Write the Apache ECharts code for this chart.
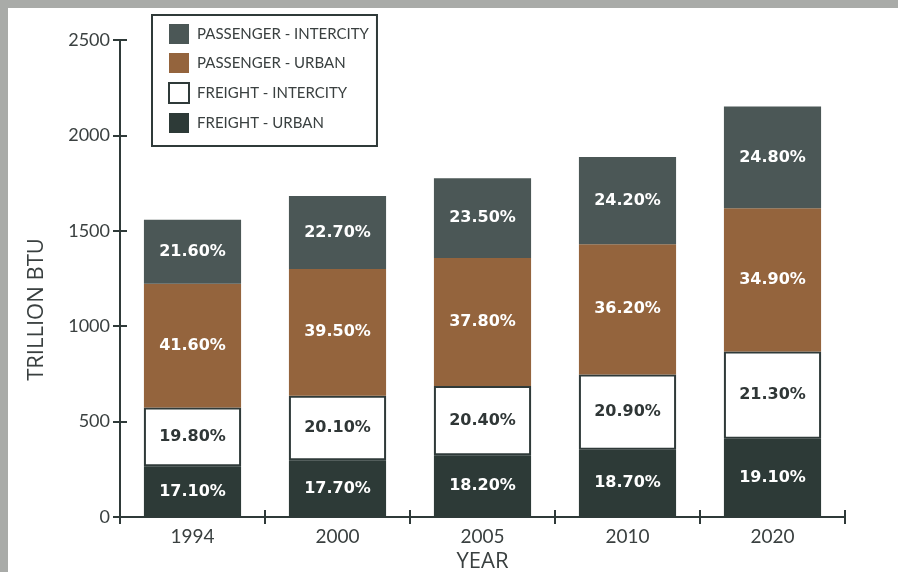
<!DOCTYPE html>
<html>
<head>
<meta charset="utf-8">
<script src="https://cdn.jsdelivr.net/npm/echarts@6/dist/echarts.min.js"></script>
<style>
  html, body { margin: 0; padding: 0; }
  body { width: 898px; height: 572px; background: #a9aba8; position: relative; overflow: hidden; }
  #chart { position: absolute; left: 8px; top: 8px; width: 890px; height: 564px; background: #ffffff; }
</style>
</head>
<body>
<div id="chart"></div>
<script>
var years = ['1994', '2000', '2005', '2010', '2020']
// trillion BTU per segment
var freightUrban = [266, 298, 323, 353, 410]
var freightIntercity = [308, 338, 363, 394, 458]
var passengerUrban = [648, 664, 672, 683, 750]
var passengerIntercity = [336, 382, 418, 457, 533]
// printed shares
var pctFreightUrban = ['17.10%', '17.70%', '18.20%', '18.70%', '19.10%']
var pctFreightIntercity = ['19.80%', '20.10%', '20.40%', '20.90%', '21.30%']
var pctPassengerUrban = ['41.60%', '39.50%', '37.80%', '36.20%', '34.90%']
var pctPassengerIntercity = ['21.60%', '22.70%', '23.50%', '24.20%', '24.80%']
var yTicks = [0, 500, 1000, 1500, 2000, 2500]

var axisColor = '#2f3a39'
var textColor = '#3a4040'
var font = 'Lato'

function makeSeries (name, values, pcts, color, labelColor, border) {
  return {
    name: name,
    type: 'bar',
    stack: 'total',
    barWidth: '67%',
    data: values,
    itemStyle: {
      color: color,
      borderColor: border ? axisColor : color,
      borderWidth: border ? 2 : 0
    },
    label: {
      show: true,
      position: 'inside',
      formatter: function (p) { return pcts[p.dataIndex] },
      color: labelColor,
      fontFamily: 'DejaVu Sans',
      fontWeight: 'bold',
      fontSize: 16
    }
  }
}

var myChart = echarts.init(document.getElementById('chart'))
var option = {
  animation: false,
  textStyle: { fontFamily: font },
  grid: { left: 112, right: 53, top: 32, bottom: 55, outerBoundsMode: 'none', containLabel: false },
  legend: {
    orient: 'vertical',
    left: 144,
    top: 7,
    data: ['PASSENGER - INTERCITY', 'PASSENGER - URBAN', 'FREIGHT - INTERCITY', 'FREIGHT - URBAN'],
    icon: 'rect',
    itemWidth: 20,
    itemHeight: 20,
    itemGap: 9,
    padding: [9, 8, 13, 16],
    borderColor: axisColor,
    borderWidth: 2,
    backgroundColor: '#ffffff',
    textStyle: { fontFamily: font, fontSize: 15, color: textColor, padding: [0, 0, 0, 3] }
  },
  xAxis: [{
    type: 'category',
    data: years,
    name: 'YEAR',
    nameLocation: 'middle',
    nameGap: 33,
    nameTextStyle: { fontFamily: 'Open Sans', fontSize: 22, color: textColor },
    axisLine: { lineStyle: { color: axisColor, width: 2 } },
    axisTick: { show: true, length: 7, lineStyle: { color: axisColor, width: 2 } },
    axisLabel: { fontFamily: font, fontSize: 19, color: textColor, margin: 10 }
  }, {
    // same axis again, only for the upward half of the crossing ticks
    type: 'category',
    data: years,
    position: 'bottom',
    axisLine: { show: false },
    axisTick: { show: true, inside: true, length: 7, lineStyle: { color: axisColor, width: 2 } },
    axisLabel: { show: false }
  }],
  yAxis: [{
    type: 'value',
    min: 0,
    max: 2500,
    interval: 500,
    name: 'TRILLION BTU',
    nameLocation: 'middle',
    nameGap: 72,
    nameTextStyle: { fontFamily: 'Open Sans', fontSize: 22, color: textColor, padding: [0, 62, 0, 0] },
    splitLine: { show: false },
    axisLine: { show: true, lineStyle: { color: axisColor, width: 2 } },
    axisTick: { show: true, length: 7, lineStyle: { color: axisColor, width: 2 } },
    axisLabel: {
      fontFamily: font,
      fontSize: 18,
      color: textColor,
      margin: 10,
      formatter: function (v) { return yTicks.indexOf(v) >= 0 ? String(v) : '' }
    }
  }, {
    // second copy of the axis for the inward half of the crossing ticks
    type: 'value',
    position: 'left',
    min: 0,
    max: 2500,
    interval: 500,
    splitLine: { show: false },
    axisLine: { show: false },
    axisTick: { show: true, inside: true, length: 7, lineStyle: { color: axisColor, width: 2 } },
    axisLabel: { show: false }
  }],
  series: [
    makeSeries('FREIGHT - URBAN', freightUrban, pctFreightUrban, '#2d3a37', '#ffffff', false),
    makeSeries('FREIGHT - INTERCITY', freightIntercity, pctFreightIntercity, '#ffffff', '#2f3636', true),
    makeSeries('PASSENGER - URBAN', passengerUrban, pctPassengerUrban, '#94643d', '#ffffff', false),
    makeSeries('PASSENGER - INTERCITY', passengerIntercity, pctPassengerIntercity, '#4b5756', '#ffffff', false)
  ]
}
myChart.setOption(option)
</script>
</body>
</html>
